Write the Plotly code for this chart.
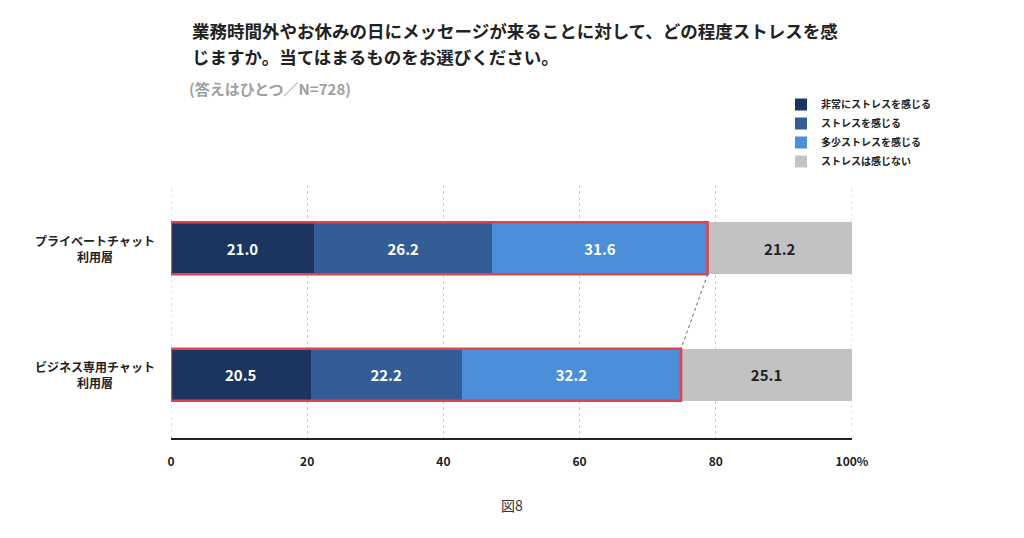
import plotly.graph_objects as go

categories = ["プライベートチャット<br>利用層", "ビジネス専用チャット<br>利用層"]
series_names = ["非常にストレスを感じる", "ストレスを感じる", "多少ストレスを感じる", "ストレスは感じない"]
series_values = [
    [21.0, 20.5],
    [26.2, 22.2],
    [31.6, 32.2],
    [21.2, 25.1],
]
colors = ["#1b3560", "#335d96", "#4a8fd8", "#c2c2c2"]
text_colors = ["white", "white", "white", "#222222"]
tick_vals = [0, 20, 40, 60, 80, 100]
tick_text = ["0", "20", "40", "60", "80", "100%"]

title_lines = [
    "業務時間外やお休みの日にメッセージが来ることに対して、どの程度ストレスを感",
    "じますか。当てはまるものをお選びください。",
]
subtitle = "(答えはひとつ／N=728)"
caption = "図8"

W, H = 1024, 538
OFF = 8  # page body margin
# plot area on screen: x 171..852, y 185..438
L, R, T, B = 171 - OFF, W - 852 + OFF, 185 - OFF, H - 438 + OFF
BAR_W = 0.41
FONT = "Noto Sans CJK JP"


def px(x, y):
    # screen pixel position -> paper coords
    return (x - 171) / (852 - 171), (438 - y) / (438 - 185)


fig = go.Figure()
for name, vals, c, tc in zip(series_names, series_values, colors, text_colors):
    fig.add_trace(
        go.Bar(
            y=categories,
            x=vals,
            name="<b>" + name + "</b>",
            orientation="h",
            width=BAR_W,
            marker=dict(color=c, line=dict(width=0)),
            text=[f"<b>{v:.1f}</b>" for v in vals],
            textposition="inside",
            insidetextanchor="middle",
            textfont=dict(color=tc, size=15, family=FONT),
            hoverinfo="skip",
        )
    )

# plotly skips grid lines on the range edges, draw those two by hand
for v in (tick_vals[0], tick_vals[-1]):
    fig.add_shape(
        type="line", xref="x", yref="paper", x0=v, x1=v, y0=0, y1=1,
        line=dict(color="#cccccc", width=1, dash="dot"), layer="below",
    )

# red outline around the first three segments and the dashed connector
stress_sum = [sum(s[i] for s in series_values[:3]) for i in range(len(categories))]
for i, total in enumerate(stress_sum):
    fig.add_shape(
        type="rect",
        xref="x",
        yref="y",
        x0=0,
        x1=total,
        y0=i - BAR_W / 2,
        y1=i + BAR_W / 2,
        line=dict(color="#e0424f", width=2.5),
    )
fig.add_shape(
    type="line",
    xref="x",
    yref="y",
    x0=stress_sum[0],
    y0=0 + BAR_W / 2,
    x1=stress_sum[1],
    y1=1 - BAR_W / 2,
    line=dict(color="#666666", width=1, dash="dot"),
)

annotations = []
for i, cat in enumerate(categories):
    annotations.append(
        dict(
            xref="paper",
            yref="y",
            x=px(157, 0)[0],
            y=i,
            text="<b>" + cat + "</b>",
            showarrow=False,
            xanchor="right",
            align="center",
            font=dict(size=12, color="#222222", family=FONT),
        )
    )
for text, y in zip(title_lines, [30, 56]):
    ax, ay = px(190, y)
    annotations.append(
        dict(
            xref="paper", yref="paper", x=ax, y=ay, text="<b>" + text + "</b>",
            showarrow=False, xanchor="left", yanchor="middle",
            font=dict(size=17.5, color="#222222", family=FONT),
        )
    )
ax, ay = px(187, 88)
annotations.append(
    dict(
        xref="paper", yref="paper", x=ax, y=ay, text="<b>" + subtitle + "</b>",
        showarrow=False, xanchor="left", yanchor="middle",
        font=dict(size=15, color="#a0a0a0", family=FONT),
    )
)
ax, ay = px(512, 505)
annotations.append(
    dict(
        xref="paper", yref="paper", x=ax, y=ay, text=caption,
        showarrow=False, xanchor="center", yanchor="middle",
        font=dict(size=14, color="#333333", family=FONT),
    )
)

lx, ly = px(781, 90)
fig.update_layout(
    width=W,
    height=H,
    margin=dict(l=L, r=R, t=T, b=B),
    barmode="stack",
    plot_bgcolor="white",
    paper_bgcolor="white",
    font=dict(family=FONT, color="#222222"),
    showlegend=True,
    legend=dict(
        x=lx,
        y=ly,
        xanchor="left",
        yanchor="top",
        traceorder="normal",
        font=dict(size=10, color="#222222", family=FONT),
        itemwidth=30,
        tracegroupgap=0,
    ),
    xaxis=dict(
        range=[0, 100],
        tickvals=tick_vals,
        ticktext=["<b>" + t + "</b>" for t in tick_text],
        showgrid=True,
        gridcolor="#cccccc",
        griddash="dot",
        gridwidth=1,
        zeroline=False,
        showline=True,
        linecolor="#222222",
        linewidth=1.5,
        ticks="",
        ticklabelstandoff=12,
        tickfont=dict(size=12, color="#222222", family=FONT),
        fixedrange=True,
    ),
    yaxis=dict(
        categoryorder="array",
        categoryarray=categories,
        showticklabels=False,
        showgrid=False,
        zeroline=False,
        range=[1.5, -0.5],
        fixedrange=True,
    ),
    annotations=annotations,
)

fig.write_html("out.html")
